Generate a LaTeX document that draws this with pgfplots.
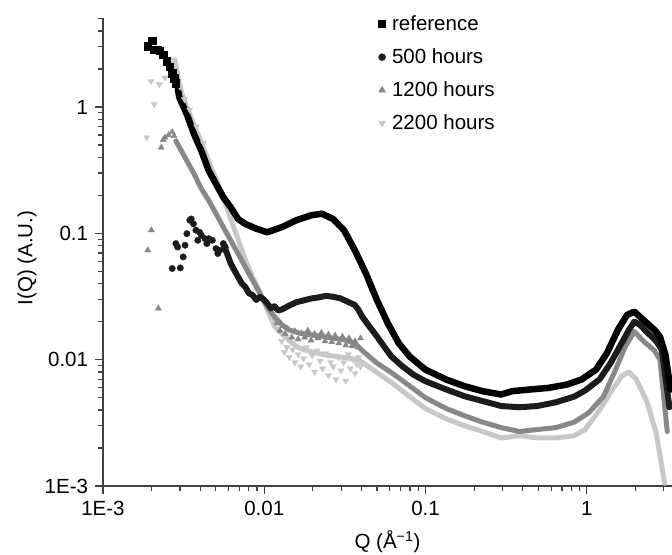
\documentclass[border=0pt]{standalone}
\usepackage{fontspec}
\setmainfont{Liberation Sans}
\usepackage{pgfplots}
\pgfplotsset{compat=1.18}
\definecolor{axc}{HTML}{404040}
\definecolor{cref}{HTML}{000000}
\definecolor{cfive}{HTML}{1C1C1C}
\definecolor{ctwelve}{HTML}{888888}
\definecolor{ctwtwo}{HTML}{C8C8C8}
\begin{document}
\fontsize{20.5}{24}\selectfont
\begin{tikzpicture}
\begin{axis}[name=ax, scale only axis, width=569pt, height=468pt,
  xmode=log, ymode=log, xmin=1e-3, xmax=3.37, ymin=1e-3, ymax=5.07,
  axis x line*=bottom, axis y line*=left,
  axis line style={draw=axc, line width=1.4pt, -},
  x axis line style={-}, y axis line style={-},
  xtick={0.001,0.01,0.1,1}, xticklabels={1E-3,0.01,0.1,1},
  ytick={0.001,0.01,0.1,1}, yticklabels={1E-3,0.01,0.1,1},
  minor xtick={0.002,0.003,0.004,0.005,0.006,0.007,0.008,0.009,0.02,0.03,0.04,0.05,0.06,0.07,0.08,0.09,0.2,0.3,0.4,0.5,0.6,0.7,0.8,0.9,2,3},
  minor ytick={0.002,0.003,0.004,0.005,0.006,0.007,0.008,0.009,0.02,0.03,0.04,0.05,0.06,0.07,0.08,0.09,0.2,0.3,0.4,0.5,0.6,0.7,0.8,0.9,2,3,4,5},
  tick align=outside, major tick length=8pt, minor tick length=5pt,
  tick style={draw=axc, line width=1.2pt},
  tick label style={font=\fontsize{20.5}{24}\selectfont, text=black},
  xlabel={Q (Å\textsuperscript{−1})}, ylabel={I(Q) (A.U.)},
  every axis x label/.style={at={(rel axis cs:0.5,0)}, yshift=-56pt, anchor=center},
  every axis y label/.style={at={(rel axis cs:0,0.487)}, xshift=-76pt, rotate=90, anchor=center},
  legend style={draw=none, fill=none, at={(0.484,1.0075)}, anchor=north west,
    inner sep=0pt, row sep=14pt, column sep=5.5pt,
    nodes={inner sep=1pt, text height=15pt, text depth=2pt},
    font=\fontsize{20.5}{24}\selectfont},
  legend cell align=left,
]
\addlegendimage{only marks, mark=square*, mark size=3.5pt, color=cref}
\addlegendimage{only marks, mark=*, mark size=3.5pt, color=cfive}
\addlegendimage{only marks, mark=triangle*, mark size=4pt, color=ctwelve}
\addlegendimage{only marks, mark=triangle*, mark size=4pt, mark options={rotate=180}, color=ctwtwo}
\legend{reference,500 hours,1200 hours,2200 hours}

% ---------- 2200 hours ----------
\addplot[forget plot, only marks, mark=triangle*, mark size=3.5pt, mark options={rotate=180}, color=ctwtwo] coordinates {
(1.866e-3,0.574)(1.986e-3,1.60)(2.073e-3,1.05)(2.239e-3,1.51)(2.421e-3,1.70)(2.618e-3,2.23)(2.759e-3,2.37)(2.831e-3,1.81)
(3.0e-3,1.45)(3.2e-3,1.15)(3.45e-3,0.95)(3.8e-3,0.70)(4.2e-3,0.52)
(0.0128,0.0140)(0.0133,0.0115)(0.0138,0.0125)(0.0143,0.0105)(0.0150,0.0120)(0.0155,0.0095)(0.0162,0.0110)(0.0168,0.0088)
(0.0175,0.0102)(0.0182,0.0125)(0.0190,0.0092)(0.0198,0.0108)(0.0205,0.0080)(0.0213,0.0118)(0.0222,0.0098)(0.0230,0.0085)
(0.0240,0.0112)(0.0250,0.0075)(0.0258,0.0095)(0.0268,0.0088)(0.0278,0.0070)(0.0288,0.0105)(0.0298,0.0082)(0.0310,0.0095)
(0.0320,0.0068)(0.0332,0.0110)(0.0342,0.0085)(0.0355,0.0100)(0.0365,0.0078)(0.0375,0.0092)(0.0385,0.0105)(0.0395,0.0088)
};
\addplot[forget plot, color=ctwtwo, line width=5pt, line join=round, line cap=round] coordinates {
(2.8e-3,2.3)(2.92e-3,1.75)(3.062e-3,1.32)(3.311e-3,1.0)(3.673e-3,0.72)(4.074e-3,0.53)(4.529e-3,0.37)(5.023e-3,0.27)
(5.572e-3,0.19)(6.194e-3,0.13)(6.871e-3,0.090)(7.621e-3,0.062)(8.464e-3,0.045)(9.397e-3,0.034)(0.01042,0.025)(0.01156,0.0185)
(0.01285,0.0160)(0.01426,0.0142)(0.01581,0.0127)(0.01758,0.0120)(0.0195,0.0116)(0.02163,0.0112)(0.02404,0.0109)(0.02807,0.0106)
(0.03281,0.0103)(0.03837,0.0100)(0.04732,0.0083)(0.06138,0.0066)(0.07962,0.0051)(0.0998,0.0041)(0.1343,0.0034)(0.1742,0.0030)
(0.226,0.0027)(0.2937,0.0024)(0.3811,0.0025)(0.4943,0.0024)(0.6421,0.0024)(0.8334,0.0025)(0.975,0.0028)(1.199,0.0040)
(1.403,0.0055)(1.641,0.0074)(1.821,0.0080)(2.022,0.0070)(2.364,0.0046)(2.693,0.0026)(3.034,0.00105)
};

% ---------- 1200 hours ----------
\addplot[forget plot, only marks, mark=triangle*, mark size=3.5pt, color=ctwelve] coordinates {
(1.895e-3,0.0735)(1.995e-3,0.106)(2.203e-3,0.0255)(2.297e-3,0.478)(2.36e-3,0.55)(2.421e-3,0.574)(2.55e-3,0.60)(2.686e-3,0.635)(2.76e-3,0.59)
(0.0120,0.0195)(0.0125,0.0170)(0.0130,0.0185)(0.0135,0.0160)(0.0140,0.0175)(0.0148,0.0150)(0.0155,0.0168)(0.0162,0.0145)
(0.0170,0.0162)(0.0178,0.0150)(0.0186,0.0170)(0.0195,0.0142)(0.0205,0.0160)(0.0215,0.0148)(0.0226,0.0163)(0.0238,0.0140)
(0.0250,0.0158)(0.0262,0.0138)(0.0275,0.0155)(0.0290,0.0135)(0.0305,0.0152)(0.0320,0.0130)(0.0335,0.0148)(0.0350,0.0128)
(0.0365,0.0140)(0.0380,0.0125)(0.0395,0.0148)
};
\addplot[forget plot, color=ctwelve, line width=5pt, line join=round, line cap=round] coordinates {
(2.831e-3,0.54)(3.062e-3,0.45)(3.311e-3,0.376)(3.673e-3,0.295)(4.074e-3,0.225)(4.529e-3,0.182)(5.023e-3,0.143)(5.572e-3,0.112)
(6.194e-3,0.0881)(6.871e-3,0.0692)(7.621e-3,0.0543)(8.464e-3,0.0426)(9.397e-3,0.0335)(0.01042,0.0263)(0.01156,0.0219)
(0.01285,0.0189)(0.01426,0.0172)(0.01667,0.0162)(0.0195,0.0157)(0.0228,0.0153)(0.02667,0.0148)(0.03119,0.0144)(0.03644,0.0135)
(0.04046,0.0118)(0.04989,0.0094)(0.06138,0.0079)(0.07962,0.0062)(0.0998,0.0050)(0.1343,0.0041)(0.1742,0.0036)(0.226,0.0032)
(0.2937,0.0029)(0.3811,0.0027)(0.4943,0.0028)(0.6421,0.0029)(0.8334,0.0032)(1.026,0.0038)(1.265,0.0051)(1.479,0.0079)
(1.73,0.0127)(1.968,0.0167)(2.244,0.0140)(2.624,0.0118)(2.838,0.0100)(3.15,0.0027)
};

% ---------- 500 hours ----------
\addplot[forget plot, only marks, mark=*, mark size=3.2pt, color=cfive] coordinates {
(2.686e-3,0.0527)(3.013e-3,0.0533)(2.831e-3,0.083)(2.904e-3,0.078)(3.141e-3,0.0651)(3.226e-3,0.0805)(3.311e-3,0.0994)
(3.451e-3,0.127)(3.524e-3,0.130)(3.638e-3,0.119)(3.767e-3,0.106)(3.873e-3,0.0881)(3.972e-3,0.102)(4.074e-3,0.0964)
(4.295e-3,0.0908)(4.406e-3,0.083)(4.529e-3,0.0908)(4.766e-3,0.0881)(5.023e-3,0.0757)(5.152e-3,0.0692)(5.297e-3,0.0735)
(5.572e-3,0.083)(5.728e-3,0.078)
};
\addplot[forget plot, color=cfive, line width=6pt, line join=round, line cap=round] coordinates {
(5.572e-3,0.083)(5.875e-3,0.0692)(6.194e-3,0.0577)(6.516e-3,0.0512)(6.871e-3,0.0453)(7.244e-3,0.0402)(7.621e-3,0.0378)
(8.035e-3,0.0335)(8.464e-3,0.0325)(8.913e-3,0.0297)(9.397e-3,0.0315)(9.896e-3,0.0300)(0.01042,0.0280)(0.01099,0.0255)
(0.01156,0.0265)(0.01219,0.0245)(0.01285,0.0250)(0.01426,0.0268)(0.01581,0.0285)(0.01758,0.0295)(0.0195,0.0305)
(0.02163,0.0311)(0.02404,0.0320)(0.02667,0.0315)(0.02958,0.0306)(0.03281,0.0288)(0.03644,0.0271)(0.03837,0.0248)
(0.04046,0.0219)(0.04487,0.0183)(0.04989,0.0153)(0.05534,0.0127)(0.06138,0.0106)(0.07178,0.00887)(0.08395,0.00762)
(0.0998,0.00675)(0.1343,0.00581)(0.1742,0.00514)(0.226,0.00470)(0.2937,0.0043)(0.3811,0.0042)(0.4943,0.0043)
(0.6421,0.0046)(0.8334,0.0051)(0.975,0.0057)(1.199,0.0070)(1.403,0.0094)(1.641,0.0135)(1.821,0.0172)(1.968,0.0200)
(2.128,0.0189)(2.364,0.0165)(2.693,0.0140)(2.911,0.0120)(3.25,0.0042)
};

% ---------- reference ----------
\addplot[forget plot, only marks, mark=square*, mark size=3.8pt, color=cref] coordinates {
(1.895e-3,3.02)(2.018e-3,3.35)(2.073e-3,2.84)(2.16e-3,2.84)(2.25e-3,2.80)(2.36e-3,2.6)(2.483e-3,2.3)(2.59e-3,2.08)
(2.686e-3,1.86)(2.76e-3,1.70)(2.831e-3,1.55)
};
\addplot[forget plot, color=cref, line width=6.5pt, line join=round, line cap=round] coordinates {
(2.91e-3,1.38)(2.983e-3,1.18)(3.311e-3,0.876)(3.673e-3,0.609)(4.074e-3,0.45)(4.529e-3,0.313)(5.023e-3,0.246)(5.572e-3,0.193)
(6.194e-3,0.161)(6.871e-3,0.130)(7.621e-3,0.119)(8.913e-3,0.109)(0.01042,0.102)(0.01285,0.112)(0.01581,0.127)(0.0195,0.139)
(0.0228,0.143)(0.02667,0.130)(0.03119,0.106)(0.03644,0.0735)(0.04266,0.0481)(0.04989,0.0297)(0.05834,0.0194)(0.06816,0.0135)
(0.07962,0.0106)(0.0998,0.00834)(0.1343,0.00696)(0.1742,0.00617)(0.226,0.00563)(0.2937,0.0053)(0.3433,0.00563)(0.4457,0.00581)
(0.5781,0.00598)(0.7508,0.00635)(0.9247,0.00696)(1.14,0.00834)(1.333,0.0113)(1.559,0.0173)(1.775,0.0226)(1.968,0.0240)
(2.244,0.0206)(2.624,0.0172)(2.838,0.0152)(3.066,0.011)(3.3,0.0058)
};
\end{axis}
\pgfresetboundingbox
\path ([xshift=-103pt,yshift=-69pt]ax.south west) rectangle ([yshift=18pt]ax.north east);
\end{tikzpicture}
\end{document}
